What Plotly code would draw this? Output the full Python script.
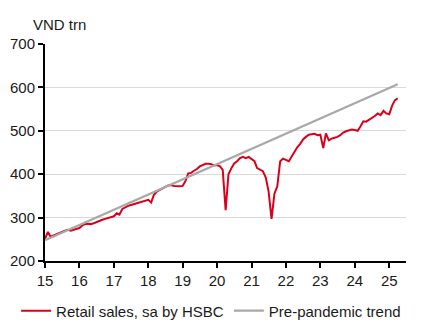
import pandas as pd
import plotly.graph_objects as go

# Monthly retail sales, seasonally adjusted (VND trn), Jan 2015 - Apr 2025
start_month = "2015-01-01"
retail_sales = [
    # 2015
    251, 267, 256, 259, 262, 265, 268, 270, 272, 270, 272, 274,
    # 2016
    276, 282, 285, 286, 285, 287, 290, 293, 295, 297, 299, 300,
    # 2017
    303, 310, 307, 320, 324, 327, 329, 331, 333, 336, 338, 340,
    # 2018
    341, 335, 352, 360, 364, 368, 371, 374, 375, 373, 372, 372,
    # 2019
    373, 385, 402, 403, 408, 412, 418, 422, 424, 424, 423, 420,
    # 2020
    421, 418, 410, 317, 400, 414, 425, 430, 437, 440, 437, 440,
    # 2021
    434, 430, 414, 410, 407, 392, 360, 297, 355, 372, 430, 436,
    # 2022
    432, 430, 440, 452, 462, 470, 480, 486, 491, 492, 493, 490,
    # 2023
    491, 460, 494, 478, 482, 484, 486, 490, 496, 499, 501, 503,
    # 2024
    502, 500, 510, 522, 521, 525, 530, 534, 540, 536, 546, 540,
    # 2025
    538, 558, 570, 575,
]

# Pre-pandemic trend line, drawn between its two end points
trend_dates = ["2015-01-01", "2025-04-01"]
trend_values = [248, 607]

y_ticks = [200, 300, 400, 500, 600, 700]

dates = pd.date_range(start_month, periods=len(retail_sales), freq="MS")

RED = "#D9001B"
GREY = "#A8A8A8"
TEXT = "#1A1A1A"
FONT = "Liberation Sans, Arial, sans-serif"

fig = go.Figure()
fig.add_trace(go.Scatter(
    x=dates, y=retail_sales, mode="lines",
    name="Retail sales, sa by HSBC",
    line=dict(color=RED, width=2),
))
fig.add_trace(go.Scatter(
    x=pd.to_datetime(trend_dates), y=trend_values, mode="lines",
    name="Pre-pandemic trend",
    line=dict(color=GREY, width=2.2),
))

fig.update_layout(
    width=426, height=328,
    margin=dict(l=45, r=20, t=44, b=67, autoexpand=False),
    paper_bgcolor="white", plot_bgcolor="white",
    font=dict(family=FONT, size=15, color=TEXT),
    showlegend=True,
    legend=dict(
        orientation="h", xref="paper", yref="paper",
        x=-0.08, xanchor="left", y=-0.23, yanchor="middle",
        font=dict(size=15, color=TEXT), itemwidth=30,
        traceorder="normal", tracegroupgap=0,
        bgcolor="rgba(0,0,0,0)",
    ),
    annotations=[dict(
        text="VND trn", xref="paper", yref="paper",
        x=-0.04, y=1.04, xanchor="left", yanchor="bottom",
        showarrow=False, font=dict(size=15, color=TEXT),
    )],
)

fig.update_xaxes(
    range=["2015-01-01", "2025-06-28"],
    tickformat="%y", dtick="M12", tick0="2015-01-01",
    ticks="outside", ticklen=5, tickwidth=2, tickcolor="black",
    showline=True, linecolor="black", linewidth=2,
    showgrid=False, zeroline=False,
    tickfont=dict(size=15, color=TEXT),
)
fig.update_yaxes(
    range=[200, 700], tickvals=y_ticks,
    ticks="outside", ticklen=5, tickwidth=2, tickcolor="black",
    showline=True, linecolor="black", linewidth=2,
    showgrid=True, gridcolor="#D9D9D9", gridwidth=1,
    zeroline=False,
    tickfont=dict(size=15, color=TEXT),
)

fig.write_html("out.html")
